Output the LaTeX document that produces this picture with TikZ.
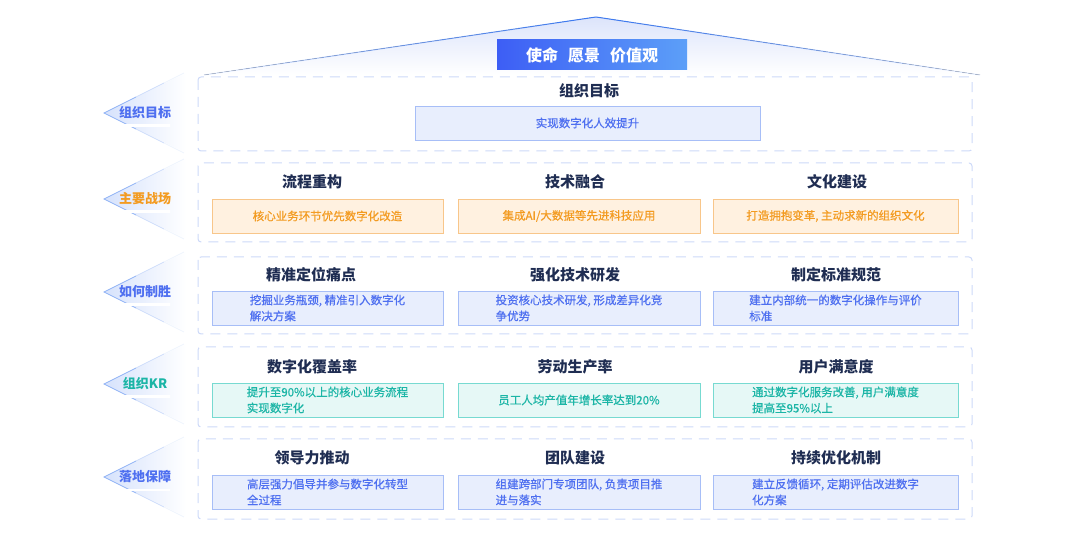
\documentclass[tikz,border=0pt]{standalone}
\usepackage{fontspec}
\setmainfont{Noto Sans CJK SC}
\newfontfamily\medfont{Noto Sans CJK SC}[FakeBold=0.6]
\usetikzlibrary{calc,fadings}

\definecolor{navy}{HTML}{1F2D52}
\definecolor{dashc}{HTML}{CDD9F8}
\definecolor{roofc}{HTML}{DCE4FB}
\definecolor{roofline}{HTML}{3F7BF0}
\definecolor{chevc}{HTML}{D6E2FC}
\definecolor{chevline}{HTML}{8FB2F5}
\definecolor{bluetxt}{HTML}{4E6FF0}
\definecolor{bluefill}{HTML}{E8EEFD}
\definecolor{blueline}{HTML}{A7BEF7}
\definecolor{orgtxt}{HTML}{F39B21}
\definecolor{orgfill}{HTML}{FFF1E0}
\definecolor{orgline}{HTML}{F8C68A}
\definecolor{tealtxt}{HTML}{1BB5A6}
\definecolor{tealfill}{HTML}{E6F8F6}
\definecolor{tealline}{HTML}{77DAD1}
\definecolor{titleL}{HTML}{3D5EF5}
\definecolor{titleR}{HTML}{5C9FF8}

\tikzset{
  sect/.style={draw=dashc, line width=1pt, dash pattern=on 10pt off 7pt, rounded corners=3pt},
  ttl/.style={text=navy, font=\bfseries\fontsize{15}{18}\selectfont},
  item/.style={draw=#1line, fill=#1fill, text=#1txt, line width=.8pt,
    minimum height=34pt, inner sep=0pt, align=left,
    font=\medfont\fontsize{11.5}{16}\selectfont},
  lbl/.style={text=#1txt, font=\bfseries\fontsize{13}{15}\selectfont},
}

\begin{document}
\begin{tikzpicture}[x=1pt,y=-1pt]
  \useasboundingbox (0,0) rectangle (1080,537);

  % roof
  \coordinate (apex) at (596,17);
  \coordinate (roofL) at (204,75);
  \coordinate (roofR) at (980,75);
  \fill[top color=roofc, bottom color=white] (apex) -- (roofR) -- (roofL) -- cycle;
  \foreach \i in {0,...,9} {
    \draw[roofline, line width=1pt, draw opacity={1-\i*0.09}]
      ($(apex)!{\i/10}!(roofL)$) -- ($(apex)!{(\i+1)/10}!(roofL)$);
    \draw[roofline, line width=1pt, draw opacity={1-\i*0.09}]
      ($(apex)!{\i/10}!(roofR)$) -- ($(apex)!{(\i+1)/10}!(roofR)$);
  }
  \node[left color=titleL, right color=titleR, minimum width=190pt, minimum height=30pt,
        text=white, font=\bfseries\fontsize{16}{18}\selectfont] (mission) at (592,55)
        {使命\hspace{10pt}愿景\hspace{10pt}价值观};

  % section frames
  \draw[sect] (198,77)  rectangle (972,151);
  \draw[sect] (198,163) rectangle (972,242);
  \draw[sect] (198,257) rectangle (972,334);
  \draw[sect] (198,347) rectangle (972,427);
  \draw[sect] (198,439) rectangle (972,519);

  % left labels
  \foreach \y/\txt/\c in {113/组织目标/blue, 199/主要战场/org, 292/如何制胜/blue,
                          384/组织KR/teal, 477/落地保障/blue} {
    \fill[chevc, path fading=east] (104,\y) -- (186,{\y-40}) -- (186,{\y+40}) -- cycle;
    \draw[chevline, line width=.8pt] (136,{\y-16}) -- (104,\y) -- (136,{\y+16});
    \draw[chevline!45, line width=.8pt] (136,{\y-16}) -- (164,{\y-30});
    \draw[chevline!45, line width=.8pt] (136,{\y+16}) -- (164,{\y+30});
    \draw[chevline!15, line width=.8pt] (164,{\y-30}) -- (184,{\y-40});
    \draw[chevline!15, line width=.8pt] (164,{\y+30}) -- (184,{\y+40});
    \fill[left color=white, middle color=bluetxt, right color=white] (122,{\y+12}) rectangle (170,{\y+13.6});
    \node[lbl=\c] (lab\y) at (145,\y) {\txt};
  }

  % row 1
  \node[ttl] (goal) at (589,91) {组织目标};
  \node[item=blue, minimum width=345pt] (goalbox) at (587.5,123) {实现数字化人效提升};

  % row 2
  \node[ttl] (r2t1) at (312,182) {流程重构};
  \node[ttl] (r2t2) at (575,182) {技术融合};
  \node[ttl] (r2t3) at (837,182) {文化建设};
  \node[item=org, minimum width=231pt] (r2b1) at (327.5,216) {核心业务环节优先数字化改造};
  \node[item=org, minimum width=242pt] (r2b2) at (579,216) {集成AI/大数据等先进科技应用};
  \node[item=org, minimum width=245pt] (r2b3) at (835.5,216) {打造拥抱变革, 主动求新的组织文化};

  % row 3
  \node[ttl] (r3t1) at (311,275) {精准定位痛点};
  \node[ttl] (r3t2) at (575,275) {强化技术研发};
  \node[ttl] (r3t3) at (836,275) {制定标准规范};
  \node[item=blue, minimum width=231pt] (r3b1) at (327.5,308) {挖掘业务瓶颈, 精准引入数字化\\解决方案};
  \node[item=blue, minimum width=242pt] (r3b2) at (579,308) {投资核心技术研发, 形成差异化竞\\争优势};
  \node[item=blue, minimum width=245pt] (r3b3) at (835.5,308) {建立内部统一的数字化操作与评价\\标准};

  % row 4
  \node[ttl] (r4t1) at (312,367) {数字化覆盖率};
  \node[ttl] (r4t2) at (575,367) {劳动生产率};
  \node[ttl] (r4t3) at (836,367) {用户满意度};
  \node[item=teal, minimum width=231pt] (r4b1) at (327.5,400) {提升至90\%以上的核心业务流程\\实现数字化};
  \node[item=teal, minimum width=242pt] (r4b2) at (579,400) {员工人均产值年增长率达到20\%};
  \node[item=teal, minimum width=245pt] (r4b3) at (835.5,400) {通过数字化服务改善, 用户满意度\\提高至95\%以上};

  % row 5
  \node[ttl] (r5t1) at (312,458) {领导力推动};
  \node[ttl] (r5t2) at (575,458) {团队建设};
  \node[ttl] (r5t3) at (836,458) {持续优化机制};
  \node[item=blue, minimum width=231pt] (r5b1) at (327.5,492) {高层强力倡导并参与数字化转型\\全过程};
  \node[item=blue, minimum width=242pt] (r5b2) at (579,492) {组建跨部门专项团队, 负责项目推\\进与落实};
  \node[item=blue, minimum width=245pt] (r5b3) at (835.5,492) {建立反馈循环, 定期评估改进数字\\化方案};

\end{tikzpicture}
\end{document}
